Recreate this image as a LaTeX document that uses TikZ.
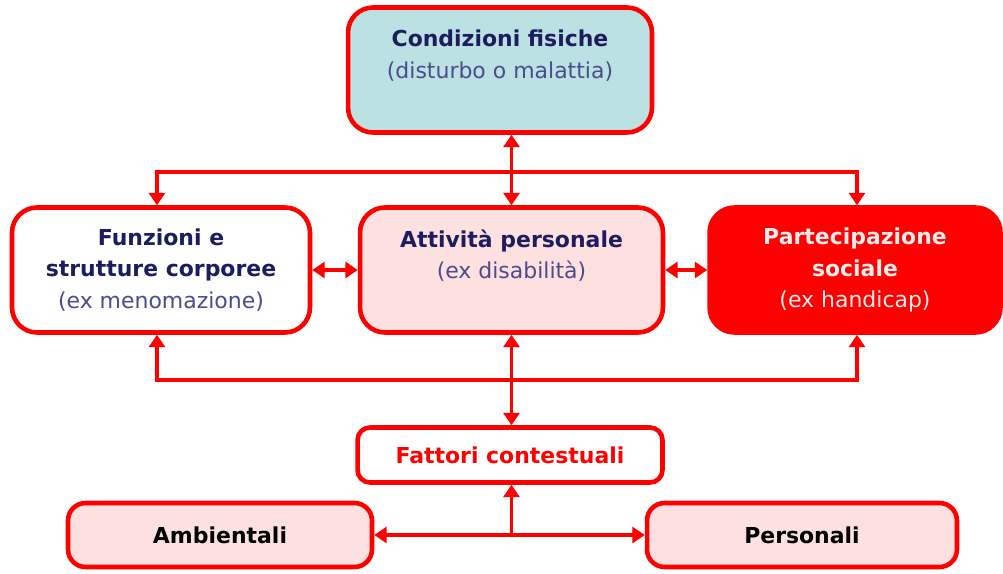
\documentclass[tikz,border=0pt]{standalone}
\usepackage{fontspec}
\setmainfont{DejaVu Sans}
\usetikzlibrary{arrows.meta}
\definecolor{icfred}{HTML}{FF0000}
\definecolor{icfnavy}{HTML}{1C1C5E}
\definecolor{icfblue}{HTML}{4C4C8C}
\definecolor{icfteal}{HTML}{BBE1E3}
\definecolor{icfpink}{HTML}{FDE1E1}
\definecolor{icfgrey}{HTML}{ECECEC}

\begin{document}
\begin{tikzpicture}[x=0.02cm, y=-0.02cm,
  box/.style={draw=icfred, line width=2.6pt, rounded corners=0.5cm, align=center,
    minimum height=2.5cm, font=\fontsize{12.5}{18}\selectfont},
  small/.style={draw=icfred, line width=2.6pt, rounded corners=0.35cm, align=center,
    font=\fontsize{12.5}{18}\selectfont\bfseries},
  link/.style={draw=icfred, line width=2.2pt},
  tip/.style={link, -{Triangle[length=7pt,width=9pt]}},
  tips/.style={link, {Triangle[length=7pt,width=9pt]}-{Triangle[length=7pt,width=9pt]}}]
  \useasboundingbox (0,0) rectangle (1003,574);
  \node (cond) [box, fill=icfteal, minimum width=6.08cm] at (500,70)
    {\textbf{\color{icfnavy}Condizioni fisiche}\\{\color{icfblue}(disturbo o malattia)}\\\mbox{}};
  \node (funz) [box, fill=white, minimum width=5.96cm] at (161,270)
    {\textbf{\color{icfnavy}Funzioni e}\\\textbf{\color{icfnavy}strutture corporee}\\{\color{icfblue}(ex menomazione)}};
  \node (att) [box, fill=icfpink, minimum width=6.06cm] at (511.5,270)
    {\textbf{\color{icfnavy}Attività personale}\\{\color{icfblue}(ex disabilità)}\\\mbox{}};
  \node (part) [box, fill=icfred, minimum width=5.82cm] at (855,270)
    {\textbf{\color{icfgrey}Partecipazione}\\\textbf{\color{icfgrey}sociale}\\{\color{icfgrey}(ex handicap)}};
  \node (fatt) [small, fill=white, text=icfred, minimum width=6.1cm, minimum height=1.1cm,
    rounded corners=0.25cm] at (510,455) {Fattori contestuali};
  \node (amb) [small, fill=icfpink, text=black, minimum width=6.08cm, minimum height=1.28cm] at (220,535) {Ambientali};
  \node (pers) [small, fill=icfpink, text=black, minimum width=6.2cm, minimum height=1.28cm] at (802,535) {Personali};

  \coordinate (tl) at (157,172);
  \coordinate (tr) at (857,172);
  \coordinate (bl) at (157,380);
  \coordinate (br) at (857,380);
  \coordinate (j) at (511.5,533);
  \draw [tips] (tl |- funz.north) -- (tl) -- (tr) -- (tr |- part.north);
  \draw [tips] (att.north |- cond.south) -- (att.north);
  \draw [tips] (bl |- funz.south) -- (bl) -- (br) -- (br |- part.south);
  \draw [tips] (att.south) -- (att.south |- fatt.north);
  \draw [tips] (funz.east) -- (att.west);
  \draw [tips] (att.east) -- (part.west);
  \draw [tip] (j) -- (j |- fatt.south);
  \draw [tips] (amb.east) -- (pers.west);
\end{tikzpicture}
\end{document}
